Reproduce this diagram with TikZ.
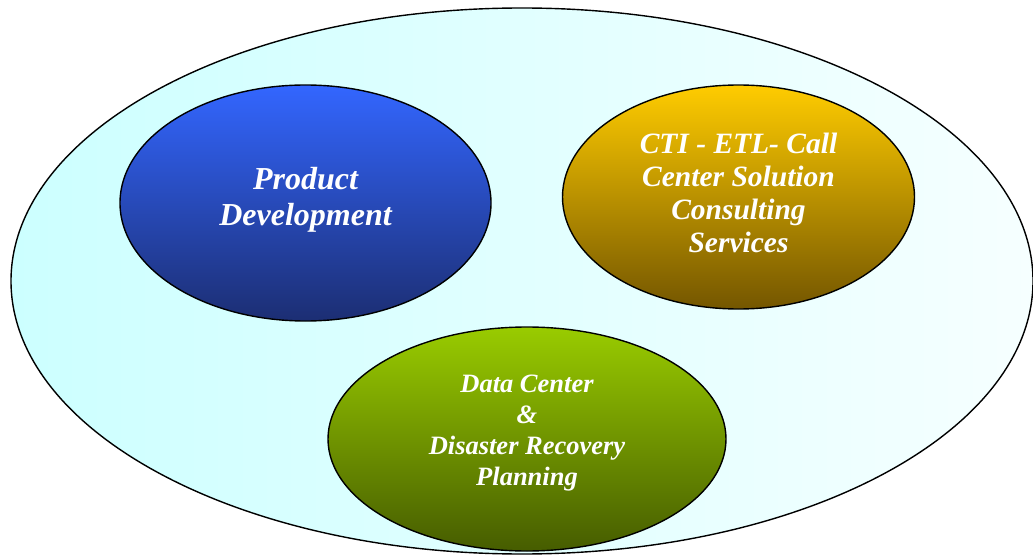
\documentclass[tikz,border=0pt]{standalone}
\usepackage{fontspec}
\setmainfont{Liberation Serif}
\usetikzlibrary{shapes.geometric}
\usepackage{xcolor}

\definecolor{skyleft}{RGB}{204,255,255}
\definecolor{skyright}{RGB}{246,255,255}
\definecolor{bluetop}{RGB}{51,102,255}
\definecolor{bluebot}{RGB}{28,46,115}
\definecolor{goldtop}{RGB}{255,204,0}
\definecolor{goldbot}{RGB}{116,86,0}
\definecolor{greentop}{RGB}{153,204,0}
\definecolor{greenbot}{RGB}{70,92,0}

% extra depth under the last line lifts the text a little
\newcommand{\lift}[1]{\rule[-#1]{0pt}{#1}}

\begin{document}
\begin{tikzpicture}[
                   x = 1pt,
                   y = -1pt,
       outer/.style = {ellipse, draw, line width=1.4pt, inner sep=0pt},
       topic/.style = {ellipse, draw, line width=1.4pt, inner sep=0pt,
                       align=center, text=white},
                   ]
\useasboundingbox (0,0) rectangle (1033,556);
\clip (0,0) rectangle (1033,556);
\node[outer, minimum width=1022pt, minimum height=546pt,
      left color=skyleft, right color=skyright] (field) at (522,281) {};
\node[topic, minimum width=371pt, minimum height=236pt,
      top color=bluetop, bottom color=bluebot,
      font=\bfseries\itshape\fontsize{32}{36}\selectfont] (product) at (305.5,203)
      {Product\\Development\lift{13pt}};
\node[topic, minimum width=352pt, minimum height=224pt,
      top color=goldtop, bottom color=goldbot,
      font=\bfseries\itshape\fontsize{29.5}{33}\selectfont] (cti) at (738.5,197)
      {CTI - ETL- Call\\Center Solution\\Consulting\\Services\lift{8pt}};
\node[topic, minimum width=398pt, minimum height=224pt,
      top color=greentop, bottom color=greenbot,
      font=\bfseries\itshape\fontsize{26.5}{31}\selectfont] (datacenter) at (527,439)
      {Data Center\\\&\\Disaster Recovery\\Planning\lift{18pt}};
\end{tikzpicture}
\end{document}
